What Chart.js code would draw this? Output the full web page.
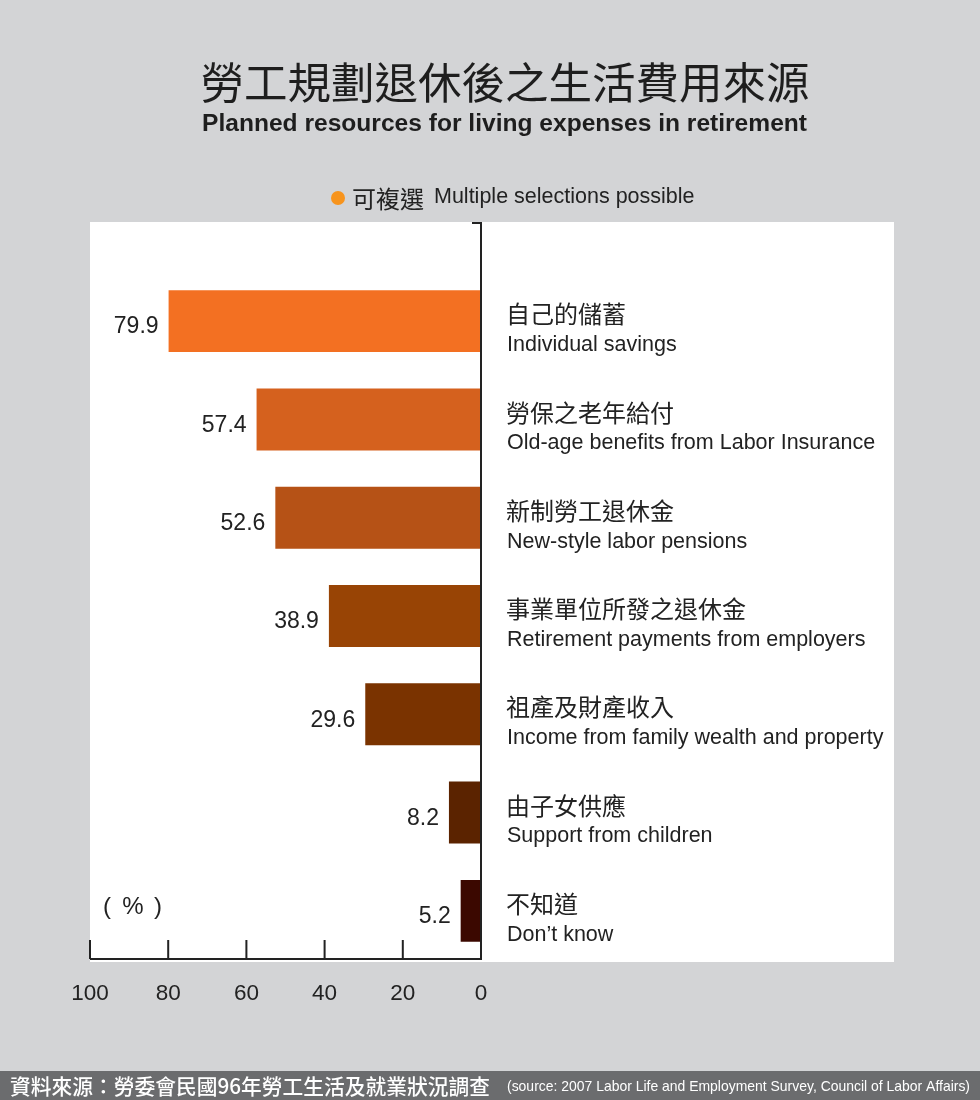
<!DOCTYPE html>
<html>
<head>
<meta charset="utf-8">
<script src="https://cdn.jsdelivr.net/npm/chart.js@4.4.1/dist/chart.umd.min.js"></script>
<style>
  html, body { margin: 0; padding: 0; background: #d3d4d6; }
  #wrap { width: 980px; height: 1100px; }
</style>
</head>
<body>
<div id="wrap"><canvas id="retireChart" width="980" height="1100"></canvas></div>
<script>
const categoriesZh = ['自己的儲蓄', '勞保之老年給付', '新制勞工退休金', '事業單位所發之退休金', '祖產及財產收入', '由子女供應', '不知道'];
const categoriesEn = ['Individual savings', 'Old-age benefits from Labor Insurance', 'New-style labor pensions',
  'Retirement payments from employers', 'Income from family wealth and property', 'Support from children', 'Don\u2019t know'];
const values = [79.9, 57.4, 52.6, 38.9, 29.6, 8.2, 5.2];
const barColors = ['#f37022', '#d5611e', '#b65216', '#984405', '#7a3300', '#5b2300', '#3b0800'];
const xTicks = [100, 80, 60, 40, 20, 0];

const SANS = '"Liberation Sans", Arial, sans-serif';
const CJK = '"Noto Sans CJK TC", "Noto Sans CJK SC", sans-serif';

// draw text (left aligned) squeezed or stretched to a given width
function fitText(ctx, text, x, y, targetW) {
  const w = ctx.measureText(text).width;
  ctx.save();
  ctx.textAlign = 'left';
  ctx.translate(x, y);
  ctx.scale(targetW / w, 1);
  ctx.fillText(text, 0, 0);
  ctx.restore();
}

const decorations = {
  id: 'decorations',
  beforeDraw(chart) {
    const { ctx, chartArea } = chart;
    ctx.save();
    ctx.fillStyle = '#d3d4d6';
    ctx.fillRect(0, 0, chart.width, chart.height);
    // white panel behind the plot
    ctx.fillStyle = '#ffffff';
    ctx.fillRect(chartArea.left, chartArea.top - 50, 894 - chartArea.left, chartArea.bottom + 2 - (chartArea.top - 50));
    ctx.restore();
  },
  afterDatasetsDraw(chart) {
    const { ctx, chartArea } = chart;
    const xs = chart.scales.x, ys = chart.scales.y;
    const x0 = xs.getPixelForValue(0);
    ctx.save();

    // axes
    ctx.strokeStyle = '#222';
    ctx.lineWidth = 2;
    ctx.beginPath();
    ctx.moveTo(x0 - 9, chartArea.top - 49);
    ctx.lineTo(x0, chartArea.top - 49);
    ctx.lineTo(x0, chartArea.bottom);
    ctx.moveTo(chartArea.left, chartArea.bottom - 1);
    ctx.lineTo(x0, chartArea.bottom - 1);
    xTicks.forEach(t => {
      const px = xs.getPixelForValue(t);
      ctx.moveTo(px, chartArea.bottom - 1);
      ctx.lineTo(px, chartArea.bottom - 20);
    });
    ctx.stroke();

    // value labels and category labels
    const meta = chart.getDatasetMeta(0);
    meta.data.forEach((bar, i) => {
      const cy = ys.getPixelForValue(i);
      ctx.fillStyle = '#222';
      ctx.font = '23px ' + SANS;
      ctx.textAlign = 'right';
      ctx.textBaseline = 'middle';
      ctx.fillText(values[i].toFixed(1), xs.getPixelForValue(values[i]) - 10, cy + 6);

      ctx.textAlign = 'left';
      ctx.font = '24px ' + CJK;
      ctx.fillText(categoriesZh[i], x0 + 25, cy - 7);
      ctx.font = '21.5px ' + SANS;
      ctx.fillText(categoriesEn[i], x0 + 26, cy + 24);
    });

    // unit
    ctx.font = '24px ' + SANS;
    ctx.textAlign = 'center';
    ctx.fillText('(', 107, 907);
    ctx.fillText('%', 133, 907);
    ctx.fillText(')', 158, 907);

    // title & subtitle
    ctx.textAlign = 'center';
    ctx.fillStyle = '#1e1e1e';
    ctx.font = '43.5px ' + CJK;
    ctx.fillText('勞工規劃退休後之生活費用來源', 505, 82);
    ctx.font = 'bold 23px ' + SANS;
    fitText(ctx, 'Planned resources for living expenses in retirement', 202, 125, 605);

    // legend note
    ctx.fillStyle = '#f7941d';
    ctx.beginPath();
    ctx.arc(338, 198, 7, 0, Math.PI * 2);
    ctx.fill();
    ctx.fillStyle = '#222';
    ctx.textAlign = 'left';
    ctx.font = '24px ' + CJK;
    ctx.fillText('可複選', 352, 199);
    ctx.font = '21.5px ' + SANS;
    ctx.fillText('Multiple selections possible', 434, 197);

    // footer
    ctx.fillStyle = '#6b6c6e';
    ctx.fillRect(0, 1071, chart.width, 29);
    ctx.fillStyle = '#ffffff';
    ctx.font = '500 21px ' + CJK;
    fitText(ctx, '資料來源：勞委會民國96年勞工生活及就業狀況調查', 10, 1086, 480);
    ctx.font = '15px ' + SANS;
    fitText(ctx, '(source: 2007 Labor Life and Employment Survey, Council of Labor Affairs)', 507, 1087, 463);
    ctx.restore();
  }
};

new Chart(document.getElementById('retireChart'), {
  type: 'bar',
  data: {
    labels: categoriesZh,
    datasets: [{
      data: values,
      backgroundColor: barColors,
      borderWidth: 0,
      categoryPercentage: 1,
      barPercentage: 0.63
    }]
  },
  options: {
    indexAxis: 'y',
    responsive: false,
    animation: false,
    layout: { padding: { left: 90, right: 499, top: 272, bottom: 0 } },
    scales: {
      x: {
        min: 0,
        max: 100,
        reverse: true,
        afterFit: (scale) => { scale.height = 140; },
        afterBuildTicks: (scale) => { scale.ticks = xTicks.map(v => ({ value: v })); },
        grid: { display: false, drawTicks: false },
        border: { display: false },
        ticks: {
          padding: 20,
          color: '#222',
          font: { family: SANS, size: 22.5 },
          callback: (v) => String(v)
        }
      },
      y: { display: false }
    },
    plugins: {
      legend: { display: false },
      tooltip: { enabled: false }
    }
  },
  plugins: [decorations]
});
</script>
</body>
</html>
